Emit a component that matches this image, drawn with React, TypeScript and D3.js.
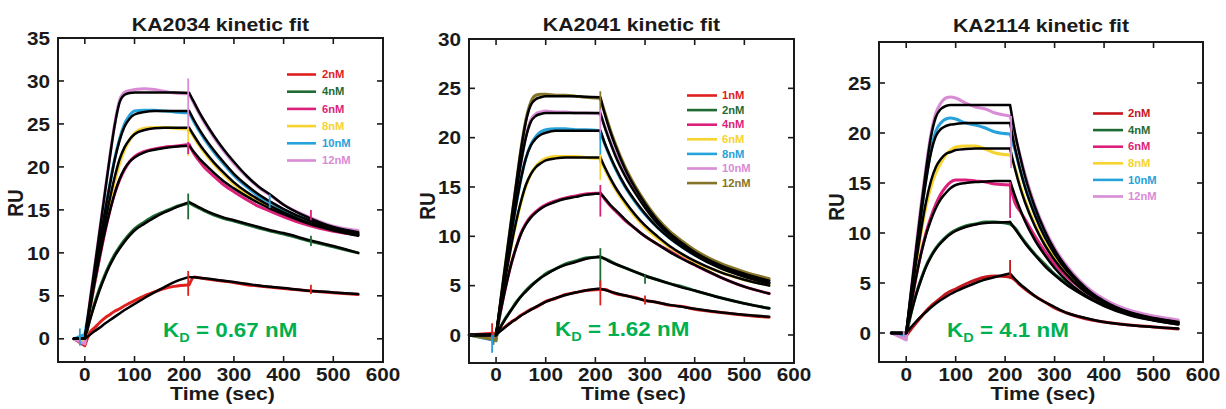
import React from "react";
import * as d3 from "d3";

// ---------- shared time grid (sec) ----------
const TIME = [0, 10, 20, 30, 40, 50, 60, 70, 80, 90, 100, 120, 140, 160, 180, 210, 220, 230, 240, 260, 280, 300, 325, 350, 375, 400, 450, 500, 550];
const X_TICKS = [0, 100, 200, 300, 400, 500, 600];

// ---------- KA2034 ----------
const KA2034_START = -22;
const KA2034_LABELS = ["2nM", "4nM", "6nM", "8nM", "10nM", "12nM"];
const KA2034_Y_TICKS = [0, 5, 10, 15, 20, 25, 30, 35];
const KA2034_KD = "0.67";
const KA2034_FIT = [
  [0, 0, 0.45, 0.9, 1.3, 1.75, 2.15, 2.55, 2.95, 3.35, 3.7, 4.05, 4.75, 5.4, 6.0, 6.6, 7.2, 7.15, 7.1, 7.05, 6.9, 6.75, 6.6, 6.4, 6.2, 6.05, 5.9, 5.6, 5.4, 5.2],
  [0, 0, 2.1, 4.0, 5.7, 7.2, 8.5, 9.6, 10.5, 11.3, 12.0, 12.6, 13.4, 14.1, 14.7, 15.2, 15.9, 15.6, 15.3, 15.0, 14.5, 14.1, 13.8, 13.4, 13.0, 12.6, 12.3, 11.5, 10.8, 10.0],
  [0, 0, 3.4, 6.6, 9.6, 12.4, 14.8, 16.9, 18.6, 19.8, 20.6, 21.1, 21.7, 22.0, 22.2, 22.35, 22.45, 21.7, 21.0, 20.4, 19.3, 18.3, 17.5, 16.6, 15.8, 15.1, 14.5, 13.4, 12.6, 12.0],
  [0, 0, 3.6, 7.0, 10.3, 13.3, 16.2, 18.8, 20.9, 22.3, 23.2, 23.8, 24.3, 24.5, 24.55, 24.55, 24.55, 23.6, 22.7, 21.9, 20.5, 19.3, 18.2, 17.1, 16.2, 15.4, 14.7, 13.5, 12.7, 12.1],
  [0, 0, 3.9, 7.6, 11.2, 14.6, 17.8, 20.8, 23.1, 24.7, 25.6, 26.1, 26.4, 26.5, 26.5, 26.5, 26.5, 25.4, 24.4, 23.5, 21.9, 20.5, 19.2, 17.9, 16.8, 15.9, 15.1, 13.8, 12.8, 12.2],
  [0, 0, 4.2, 8.4, 12.6, 16.8, 21.0, 24.8, 27.5, 28.4, 28.6, 28.65, 28.65, 28.65, 28.65, 28.65, 28.6, 27.5, 26.4, 25.4, 23.6, 22.0, 20.6, 19.0, 17.7, 16.7, 15.6, 14.1, 13.0, 12.4],
];
const KA2034_DATA = [
  [0, -0.8, 0.7, 1.3, 1.9, 2.4, 2.8, 3.2, 3.5, 3.85, 4.15, 4.45, 5.0, 5.45, 5.85, 6.1, 6.3, 7.2, 7.1, 7.0, 6.85, 6.7, 6.55, 6.3, 6.15, 6.0, 5.85, 5.6, 5.35, 5.15],
  [0, -0.3, 2.3, 4.2, 5.9, 7.4, 8.7, 9.8, 10.7, 11.5, 12.2, 12.8, 13.6, 14.3, 14.8, 15.3, 15.8, 15.5, 15.2, 14.9, 14.4, 14.0, 13.7, 13.3, 12.9, 12.5, 12.2, 11.4, 10.7, 10.0],
  [0, -0.5, 3.3, 6.5, 9.5, 12.3, 14.8, 16.9, 18.5, 19.7, 20.6, 21.2, 21.8, 22.1, 22.3, 22.4, 22.6, 21.5, 20.7, 20.0, 18.9, 17.9, 17.1, 16.2, 15.4, 14.8, 14.2, 13.2, 12.5, 12.1],
  [0, -0.3, 3.5, 6.8, 10.0, 13.0, 15.8, 18.3, 20.4, 22.0, 23.1, 23.9, 24.5, 24.6, 24.6, 24.5, 24.4, 23.4, 22.5, 21.7, 20.3, 19.1, 18.0, 16.9, 16.0, 15.3, 14.6, 13.5, 12.7, 12.2],
  [0, 0.5, 4.0, 7.7, 11.3, 14.7, 17.9, 20.9, 23.3, 25.0, 26.0, 26.5, 26.6, 26.6, 26.5, 26.4, 26.3, 25.2, 24.2, 23.3, 21.7, 20.3, 19.0, 17.7, 16.6, 15.8, 15.0, 13.8, 12.9, 12.3],
  [0, -0.6, 4.3, 8.5, 12.7, 16.9, 21.1, 25.0, 27.8, 28.7, 28.9, 29.0, 29.1, 29.0, 28.8, 28.6, 28.5, 27.3, 26.2, 25.2, 23.4, 21.8, 20.4, 18.9, 17.6, 16.6, 15.6, 14.2, 13.1, 12.6],
];
// [series, time, low, high]
const KA2034_SPIKES = [
  [5, 208, 24.0, 30.3], [4, -10, -0.8, 1.2], [4, 372, 15.2, 16.8], [3, 208, 21.3, 24.5],
  [2, 208, 21.5, 22.9], [2, 455, 13.8, 15.0], [1, 208, 13.9, 16.9], [1, 455, 10.8, 12.0],
  [0, 208, 5.0, 7.9], [0, 455, 5.2, 6.3],
];

// ---------- KA2041 ----------
const KA2041_START = -54;
const KA2041_LABELS = ["1nM", "2nM", "4nM", "6nM", "8nM", "10nM", "12nM"];
const KA2041_Y_TICKS = [0, 5, 10, 15, 20, 25, 30];
const KA2041_KD = "1.62";
const KA2041_FIT = [
  [0, 0, 0.45, 0.85, 1.25, 1.6, 1.95, 2.25, 2.55, 2.85, 3.1, 3.35, 3.75, 4.05, 4.3, 4.5, 4.7, 4.55, 4.4, 4.25, 4.0, 3.75, 3.5, 3.3, 3.05, 2.85, 2.65, 2.3, 2.05, 1.85],
  [0, 0, 0.9, 1.7, 2.5, 3.2, 3.9, 4.4, 4.9, 5.4, 5.8, 6.1, 6.7, 7.1, 7.4, 7.7, 7.95, 7.7, 7.4, 7.2, 6.8, 6.4, 6.0, 5.6, 5.2, 4.8, 4.5, 3.8, 3.2, 2.7],
  [0, 0, 2.6, 5.0, 7.1, 8.8, 10.2, 11.2, 11.9, 12.4, 12.8, 13.1, 13.5, 13.8, 14.0, 14.2, 14.35, 13.8, 13.2, 12.7, 11.7, 10.8, 10.0, 9.2, 8.4, 7.7, 7.1, 5.9, 4.9, 4.2],
  [0, 0, 3.1, 6.1, 8.9, 11.4, 13.5, 15.2, 16.3, 17.0, 17.4, 17.7, 17.9, 18.0, 18.0, 18.0, 18.0, 16.9, 15.9, 15.0, 13.5, 12.2, 11.1, 10.0, 9.0, 8.2, 7.5, 6.4, 5.6, 5.0],
  [0, 0, 3.4, 6.8, 10.1, 13.1, 15.8, 17.9, 19.2, 19.9, 20.3, 20.5, 20.7, 20.7, 20.7, 20.7, 20.7, 19.3, 18.1, 17.0, 15.1, 13.6, 12.3, 10.9, 9.8, 8.9, 8.1, 6.8, 5.9, 5.2],
  [0, 0, 3.6, 7.2, 10.8, 14.2, 17.4, 20.0, 21.6, 22.2, 22.4, 22.5, 22.5, 22.5, 22.5, 22.5, 22.5, 20.9, 19.5, 18.2, 16.1, 14.4, 12.9, 11.3, 10.1, 9.1, 8.3, 7.0, 6.0, 5.3],
  [0, 0, 3.8, 7.6, 11.4, 15.1, 18.7, 21.6, 23.3, 23.9, 24.1, 24.2, 24.2, 24.2, 24.2, 24.15, 24.1, 22.2, 20.6, 19.2, 16.8, 14.9, 13.3, 11.6, 10.3, 9.3, 8.4, 7.1, 6.2, 5.5],
];
const KA2041_DATA = [
  [0, 0.2, 0.5, 0.9, 1.3, 1.6, 2.0, 2.3, 2.6, 2.8, 3.1, 3.4, 3.7, 4.1, 4.3, 4.5, 4.6, 4.6, 4.4, 4.2, 4.0, 3.8, 3.5, 3.3, 3.0, 2.9, 2.6, 2.3, 2.0, 1.8],
  [0, -0.2, 0.9, 1.8, 2.5, 3.3, 3.9, 4.5, 5.0, 5.4, 5.8, 6.2, 6.7, 7.2, 7.5, 7.8, 7.9, 7.7, 7.5, 7.2, 6.8, 6.4, 6.0, 5.6, 5.2, 4.9, 4.5, 3.8, 3.2, 2.7],
  [0, -0.2, 2.6, 5.0, 7.1, 8.8, 10.3, 11.3, 12.0, 12.5, 12.9, 13.2, 13.6, 13.9, 14.1, 14.3, 14.4, 13.7, 13.1, 12.6, 11.6, 10.8, 10.0, 9.2, 8.5, 7.8, 7.1, 5.9, 4.9, 4.2],
  [0, -0.4, 3.1, 6.1, 8.9, 11.3, 13.4, 15.1, 16.3, 17.1, 17.6, 17.9, 18.1, 18.1, 18.1, 18.0, 17.9, 16.7, 15.7, 14.8, 13.3, 12.0, 10.9, 9.8, 8.9, 8.1, 7.4, 6.4, 5.6, 5.1],
  [0, -0.6, 3.4, 6.8, 10.1, 13.1, 15.8, 17.9, 19.3, 20.1, 20.6, 20.8, 20.9, 20.9, 20.8, 20.8, 20.7, 19.2, 18.0, 16.9, 15.0, 13.5, 12.2, 10.9, 9.8, 8.9, 8.1, 6.9, 6.0, 5.3],
  [0, -0.2, 3.6, 7.2, 10.8, 14.2, 17.4, 20.1, 21.8, 22.4, 22.6, 22.7, 22.6, 22.6, 22.5, 22.5, 22.4, 21.0, 19.6, 18.4, 16.3, 14.6, 13.1, 11.5, 10.2, 9.2, 8.4, 7.1, 6.2, 5.5],
  [0, -0.5, 3.8, 7.6, 11.4, 15.1, 18.8, 21.8, 23.6, 24.3, 24.4, 24.4, 24.3, 24.3, 24.2, 24.1, 24.0, 22.4, 20.8, 19.4, 17.0, 15.1, 13.5, 11.8, 10.5, 9.5, 8.6, 7.3, 6.4, 5.7],
];
const KA2041_SPIKES = [
  [6, -5, -1.0, 0.3], [6, 210, 22.6, 24.7], [5, 210, 19.8, 22.9], [4, -8, -1.8, 0], [4, 210, 17.5, 20.5],
  [3, 210, 15.7, 18.3], [2, 210, 12.0, 15.2], [1, 210, 4.9, 8.8], [1, 300, 5.2, 6.1],
  [0, -8, 0, 1.2], [0, 210, 3.0, 5.5], [0, 300, 3.1, 4.0],
];

// ---------- KA2114 ----------
const KA2114_START = -30;
const KA2114_LABELS = ["2nM", "4nM", "6nM", "8nM", "10nM", "12nM"];
const KA2114_Y_TICKS = [0, 5, 10, 15, 20, 25];
const KA2114_KD = "4.1";
const KA2114_FIT = [
  [0, 0, 0.6, 1.15, 1.65, 2.1, 2.55, 2.95, 3.3, 3.6, 3.9, 4.15, 4.6, 5.0, 5.35, 5.6, 5.95, 5.4, 4.9, 4.5, 3.7, 3.1, 2.6, 2.0, 1.65, 1.35, 1.1, 0.8, 0.6, 0.45],
  [0, 0, 2.0, 3.8, 5.3, 6.6, 7.6, 8.4, 9.0, 9.5, 9.9, 10.2, 10.6, 10.85, 11.0, 11.05, 11.1, 10.4, 9.7, 9.0, 7.8, 6.7, 5.8, 4.8, 4.0, 3.3, 2.7, 1.8, 1.25, 0.85],
  [0, 0, 2.9, 5.6, 7.9, 9.8, 11.3, 12.5, 13.4, 14.0, 14.5, 14.8, 15.0, 15.1, 15.15, 15.2, 15.2, 13.7, 12.4, 11.2, 9.3, 7.8, 6.5, 5.2, 4.2, 3.4, 2.8, 1.9, 1.3, 0.95],
  [0, 0, 3.6, 7.1, 10.3, 13.1, 15.2, 16.6, 17.4, 17.9, 18.1, 18.3, 18.4, 18.45, 18.45, 18.45, 18.45, 16.4, 14.6, 13.1, 10.7, 8.8, 7.3, 5.8, 4.6, 3.7, 3.0, 2.0, 1.4, 1.0],
  [0, 0, 4.0, 8.0, 11.8, 15.2, 18.0, 19.7, 20.4, 20.7, 20.85, 20.9, 21.0, 21.0, 21.0, 21.0, 21.0, 18.5, 16.4, 14.6, 11.8, 9.6, 7.9, 6.2, 4.9, 3.9, 3.1, 2.05, 1.45, 1.05],
  [0, 0, 4.2, 8.4, 12.5, 16.3, 19.6, 21.6, 22.4, 22.7, 22.8, 22.8, 22.8, 22.8, 22.8, 22.8, 22.8, 20.0, 17.7, 15.7, 12.6, 10.2, 8.3, 6.5, 5.1, 4.0, 3.2, 2.1, 1.5, 1.1],
];
const KA2114_DATA = [
  [0, -0.3, 0.4, 1.0, 1.6, 2.2, 2.7, 3.1, 3.5, 3.9, 4.2, 4.4, 4.9, 5.3, 5.6, 5.7, 5.6, 5.3, 4.8, 4.4, 3.7, 3.1, 2.5, 2.0, 1.6, 1.3, 1.1, 0.8, 0.6, 0.4],
  [0, -0.3, 2.0, 3.9, 5.4, 6.7, 7.7, 8.5, 9.1, 9.6, 10.0, 10.3, 10.7, 10.9, 11.1, 11.1, 10.9, 10.5, 9.8, 9.1, 7.9, 6.9, 5.9, 5.0, 4.1, 3.4, 2.8, 1.9, 1.3, 0.9],
  [0, -0.4, 2.8, 5.6, 8.0, 10.0, 11.6, 12.9, 13.9, 14.6, 15.1, 15.3, 15.3, 15.2, 15.1, 14.9, 14.8, 13.0, 12.2, 11.4, 9.7, 8.2, 6.9, 5.6, 4.6, 3.7, 3.0, 2.0, 1.4, 1.0],
  [0, -0.4, 3.5, 6.9, 10.0, 12.6, 14.6, 16.0, 17.0, 17.8, 18.3, 18.6, 18.7, 18.7, 18.4, 18.0, 17.8, 16.5, 14.8, 13.3, 10.9, 9.0, 7.5, 6.0, 4.8, 3.8, 3.1, 2.1, 1.5, 1.1],
  [0, -0.3, 4.0, 8.0, 11.9, 15.4, 18.3, 20.2, 21.0, 21.4, 21.5, 21.4, 21.0, 20.8, 20.5, 20.1, 19.9, 18.3, 16.4, 14.7, 12.0, 9.8, 8.1, 6.4, 5.1, 4.1, 3.3, 2.2, 1.6, 1.2],
  [0, -0.7, 4.3, 8.6, 12.8, 16.6, 19.9, 22.0, 23.0, 23.5, 23.6, 23.5, 23.0, 22.6, 22.4, 22.0, 21.7, 19.8, 17.8, 15.9, 12.8, 10.4, 8.5, 6.7, 5.3, 4.2, 3.4, 2.3, 1.7, 1.3],
];
const KA2114_SPIKES = [
  [0, 210, 5.4, 7.3], [2, 210, 11.5, 15.1], [5, 212, 16.5, 21.7], [5, -5, -0.7, 0.2],
];

// ---------- colours ----------
const RED = "#e0201e";
const DARK_RED = "#c4161c";
const GREEN = "#1f6b33";
const MAGENTA = "#dc1f7a";
const YELLOW = "#f6d32e";
const CYAN = "#27a2da";
const VIOLET = "#d98bd6";
const OLIVE = "#857428";
const KD_GREEN = "#00b050";
const INK = "#1a1a1a";
const FONT = "'Liberation Sans', Arial, Helvetica, sans-serif";
const SX = 1.12;

const PANELS = [
  {
    title: "KA2034 kinetic fit", start: KA2034_START, labels: KA2034_LABELS, yTicks: KA2034_Y_TICKS,
    fit: KA2034_FIT, data: KA2034_DATA, spikes: KA2034_SPIKES, kd: KA2034_KD,
    colors: [RED, GREEN, MAGENTA, YELLOW, CYAN, VIOLET],
    left: 58, right: 383, top: 38, bottom: 362, xMin: -54, yMin: -2.7, yMax: 35,
    titleY: 31, kdX: 163, kdY: 337, ruX: 15.5, ruY: 203,
    leg: { x1: 287, x2: 316, tx: 322, y0: 74.5, dy: 17.2 },
  },
  {
    title: "KA2041 kinetic fit", start: KA2041_START, labels: KA2041_LABELS, yTicks: KA2041_Y_TICKS,
    fit: KA2041_FIT, data: KA2041_DATA, spikes: KA2041_SPIKES, kd: KA2041_KD,
    colors: [RED, GREEN, MAGENTA, YELLOW, CYAN, VIOLET, OLIVE],
    left: 469, right: 794, top: 39, bottom: 363, xMin: -54.5, yMin: -2.84, yMax: 30,
    titleY: 31, kdX: 555, kdY: 336, ruX: 427.5, ruY: 206,
    leg: { x1: 687, x2: 717, tx: 722, y0: 95.5, dy: 14.6 },
  },
  {
    title: "KA2114 kinetic fit", start: KA2114_START, labels: KA2114_LABELS, yTicks: KA2114_Y_TICKS,
    fit: KA2114_FIT, data: KA2114_DATA, spikes: KA2114_SPIKES, kd: KA2114_KD,
    colors: [DARK_RED, GREEN, MAGENTA, YELLOW, CYAN, VIOLET],
    left: 879, right: 1203, top: 42, bottom: 362, xMin: -55, yMin: -2.9, yMax: 29.1,
    titleY: 31.5, kdX: 947, kdY: 337, ruX: 836.5, ruY: 207,
    leg: { x1: 1093, x2: 1123, tx: 1128, y0: 113.5, dy: 16.6 },
  },
];

function Panel({ p }: { p: any }) {
  const x = d3.scaleLinear().domain([p.xMin, 600]).range([p.left, p.right]);
  const y = d3.scaleLinear().domain([p.yMin, p.yMax]).range([p.bottom, p.top]);
  const times = [p.start, ...TIME];
  const lin = d3.line<[number, number]>().x((d) => x(d[0])).y((d) => y(d[1]));
  const mono = d3.line<[number, number]>().x((d) => x(d[0])).y((d) => y(d[1])).curve(d3.curveMonotoneX);
  const pathFor = (vals: number[]) => {
    const pts = times.map((t, i) => [t, vals[i]] as [number, number]);
    return (lin(pts.slice(0, 2)) || "") + (mono(pts.slice(1, 17)) || "") + (mono(pts.slice(16)) || "");
  };
  const cx = (p.left + p.right) / 2;
  const tick = 6;
  return (
    <g>
      {/* data traces */}
      {p.data.map((vals: number[], i: number) => (
        <path key={"d" + i} d={pathFor(vals)} fill="none" stroke={p.colors[i]} strokeWidth={3}
          strokeLinejoin="round" strokeLinecap="round" />
      ))}
      {/* fitted curves */}
      {p.fit.map((vals: number[], i: number) => (
        <path key={"f" + i} d={pathFor(vals)} fill="none" stroke="#000" strokeWidth={2.5}
          strokeLinejoin="round" strokeLinecap="round" />
      ))}
      {/* injection spikes */}
      {p.spikes.map((s: number[], i: number) => (
        <line key={"s" + i} x1={x(s[1])} x2={x(s[1])} y1={y(s[2])} y2={y(s[3])}
          stroke={p.colors[s[0]]} strokeWidth={1.8} />
      ))}
      {/* frame */}
      <rect x={p.left} y={p.top} width={p.right - p.left} height={p.bottom - p.top}
        fill="none" stroke={INK} strokeWidth={2} />
      {/* x ticks */}
      {X_TICKS.map((t) => (
        <g key={"xt" + t}>
          <line x1={x(t)} x2={x(t)} y1={p.bottom} y2={p.bottom - tick} stroke={INK} strokeWidth={1.6} />
          <line x1={x(t)} x2={x(t)} y1={p.top} y2={p.top + tick} stroke={INK} strokeWidth={1.6} />
          <text transform={`translate(${x(t)},380.5) scale(${SX},1)`} textAnchor="middle"
            fontFamily={FONT} fontWeight="bold" fontSize={18.5} fill={INK}>{t}</text>
        </g>
      ))}
      {/* y ticks */}
      {p.yTicks.map((v: number) => (
        <g key={"yt" + v}>
          <line x1={p.left} x2={p.left + tick} y1={y(v)} y2={y(v)} stroke={INK} strokeWidth={1.6} />
          <line x1={p.right} x2={p.right - tick} y1={y(v)} y2={y(v)} stroke={INK} strokeWidth={1.6} />
          <text transform={`translate(${p.left - 8},${y(v)}) scale(${SX},1)`} textAnchor="end" dy="0.36em"
            fontFamily={FONT} fontWeight="bold" fontSize={18.5} fill={INK}>{v}</text>
        </g>
      ))}
      {/* title */}
      <text transform={`translate(${cx},${p.titleY}) scale(${SX},1)`} textAnchor="middle"
        fontFamily={FONT} fontWeight="bold" fontSize={19} fill={INK}>{p.title}</text>
      {/* axis titles */}
      <text transform={`translate(${cx + 2},400) scale(${SX},1)`} textAnchor="middle"
        fontFamily={FONT} fontWeight="bold" fontSize={19} fill={INK}>Time (sec)</text>
      <text transform={`translate(${p.ruX},${p.ruY}) scale(${SX},1) rotate(-90)`} textAnchor="middle" dy="0.36em"
        fontFamily={FONT} fontWeight="bold" fontSize={19} fill={INK}>RU</text>
      {/* legend */}
      {p.labels.map((lab: string, i: number) => {
        const ly = p.leg.y0 + i * p.leg.dy;
        return (
          <g key={"lg" + i}>
            <line x1={p.leg.x1} x2={p.leg.x2} y1={ly} y2={ly} stroke={p.colors[i]} strokeWidth={2.6} />
            <text transform={`translate(${p.leg.tx},${ly}) scale(${SX},1)`} dy="0.36em"
              fontFamily={FONT} fontWeight="bold" fontSize={10} fill={p.colors[i]}>{lab}</text>
          </g>
        );
      })}
      {/* KD annotation */}
      <text transform={`translate(${p.kdX},${p.kdY}) scale(${SX},1)`} fontFamily={FONT}
        fontWeight="bold" fontSize={20} fill={KD_GREEN}>
        K<tspan fontSize={13} dy={5}>D</tspan><tspan dy={-5}>{" = " + p.kd + " nM"}</tspan>
      </text>
    </g>
  );
}

export default function App() {
  return (
    <svg width={1226} height={409} viewBox="0 0 1226 409"
      style={{ position: "absolute", left: 0, top: 0, background: "#fff" }}>
      <rect x={0} y={0} width={1226} height={409} fill="#fff" />
      {PANELS.map((p, i) => (
        <Panel key={i} p={p} />
      ))}
    </svg>
  );
}
